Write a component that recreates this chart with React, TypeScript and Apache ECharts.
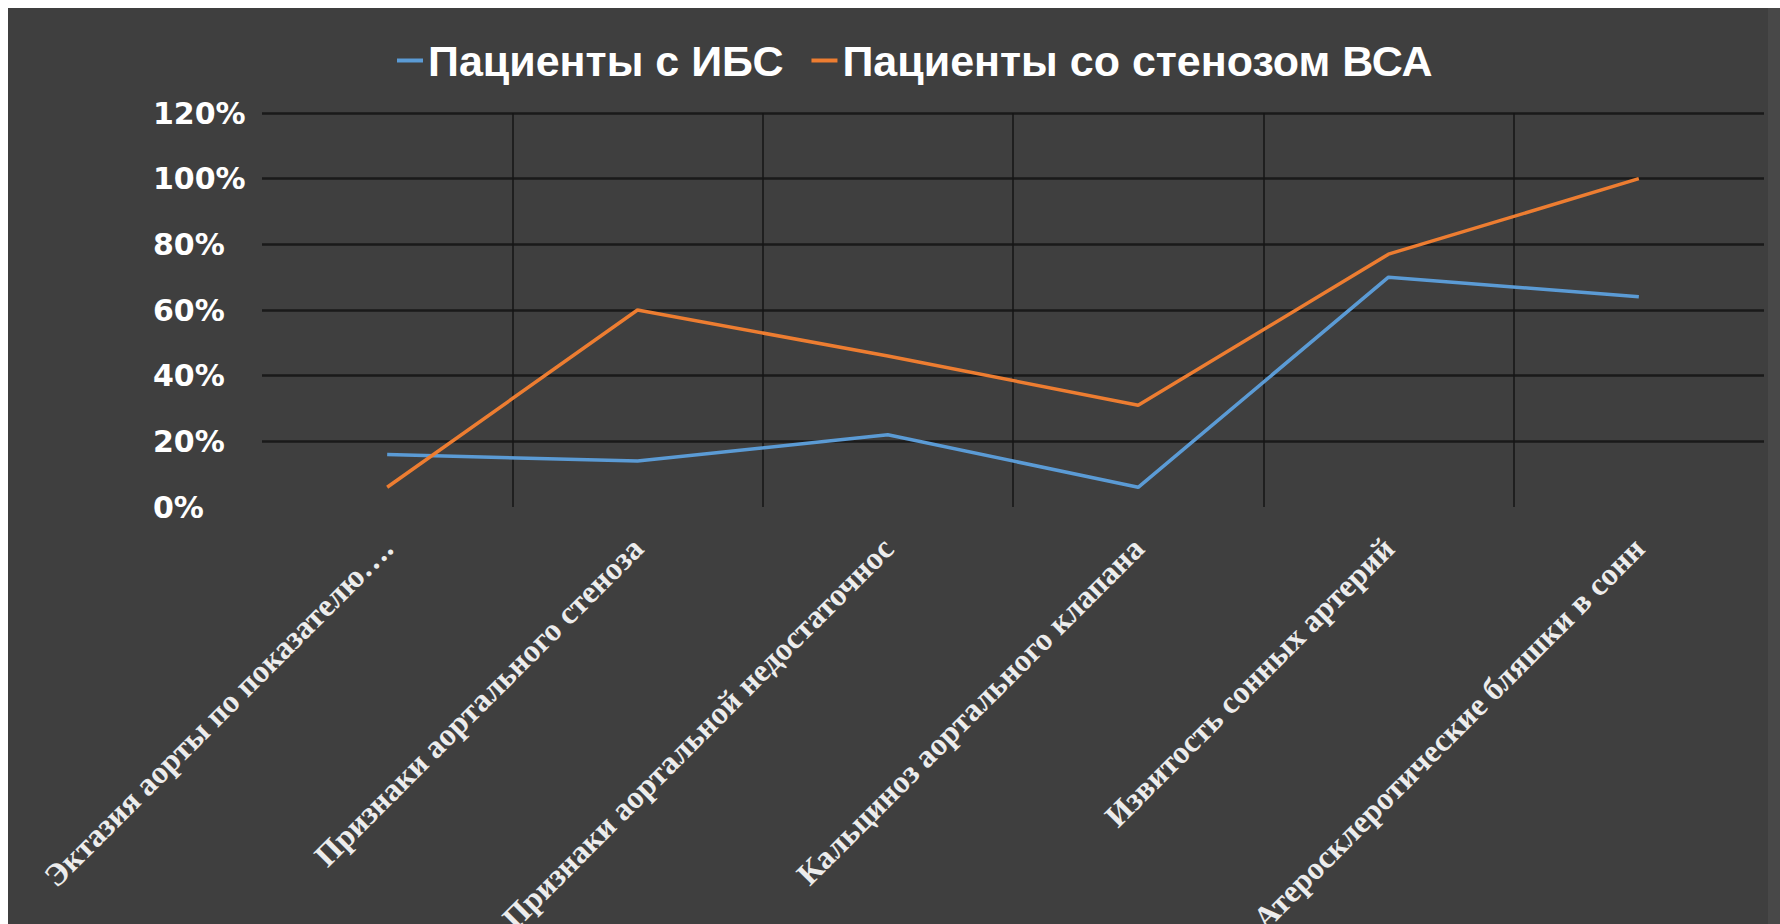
import React, { useEffect, useRef } from "react";
import * as echarts from "echarts";

const categories = [
  "Эктазия аорты по показателю….",
  "Признаки аортального стеноза",
  "Признаки аортальной недостаточнос",
  "Кальциноз аортального клапана",
  "Извитость сонных артерий",
  "Атеросклеротические бляшки в сонн",
];
const seriesNames = ["Пациенты с ИБС", "Пациенты со стенозом ВСА"];
const ihdValues = [16, 14, 22, 6, 70, 64];
const stenosisValues = [6, 60, 46, 31, 77, 100];
const yMin = 0;
const yMax = 120;
const yStep = 20;

export default function App() {
  const ref = useRef<HTMLDivElement>(null);
  useEffect(() => {
    if (!ref.current) return;
    const chart = echarts.init(ref.current, null, { renderer: "svg" });
    chart.setOption({
      animation: false,
      backgroundColor: "#3f3f3f",
      graphic: [
        { type: "rect", shape: { x: 0, y: 0, width: 1780, height: 8 }, style: { fill: "#ffffff" }, silent: true },
        { type: "rect", shape: { x: 0, y: 0, width: 8, height: 924 }, style: { fill: "#ffffff" }, silent: true },
        { type: "rect", shape: { x: 1768, y: 8, width: 12, height: 916 }, style: { fill: "#484848" }, silent: true },
      ],
      legend: {
        data: seriesNames,
        left: 392,
        top: 34,
        icon: "rect",
        itemWidth: 26,
        itemHeight: 4,
        itemGap: 28,
        textStyle: {
          color: "#ffffff",
          fontFamily: "Liberation Sans",
          fontWeight: "bold",
          fontSize: 43,
        },
      },
      grid: {
        left: 262,
        top: 113,
        width: 1502,
        height: 394,
        containLabel: false,
        outerBoundsMode: "none",
      },
      xAxis: {
        type: "category",
        data: categories,
        boundaryGap: true,
        axisLine: { show: false },
        axisTick: { show: false },
        splitLine: {
          show: true,
          showMinLine: false,
          showMaxLine: false,
          lineStyle: { color: "#161616", width: 1.5 },
        },
        axisLabel: {
          interval: 0,
          rotate: 45,
          margin: 36,
          color: "#ececec",
          fontFamily: "Liberation Serif",
          fontWeight: "bold",
          fontSize: 32,
        },
      },
      yAxis: {
        type: "value",
        min: yMin,
        max: yMax,
        interval: yStep,
        axisLine: { show: false },
        axisTick: { show: false },
        splitLine: {
          show: true,
          showMinLine: false,
          lineStyle: { color: "#1a1a1a", width: 2.5 },
        },
        axisLabel: {
          align: "left",
          margin: 109,
          formatter: "{value}%",
          color: "#ffffff",
          fontFamily: "DejaVu Sans",
          fontWeight: "bold",
          fontSize: 30,
        },
      },
      series: [
        {
          name: seriesNames[0],
          type: "line",
          data: ihdValues,
          showSymbol: false,
          symbol: "none",
          lineStyle: { color: "#5b9bd5", width: 3.5 },
          itemStyle: { color: "#5b9bd5" },
        },
        {
          name: seriesNames[1],
          type: "line",
          data: stenosisValues,
          showSymbol: false,
          symbol: "none",
          lineStyle: { color: "#ed7d31", width: 3.5 },
          itemStyle: { color: "#ed7d31" },
        },
      ],
    });
    return () => chart.dispose();
  }, []);
  return (
    <div
      ref={ref}
      style={{ position: "fixed", left: 0, top: 0, width: 1780, height: 924 }}
    />
  );
}
